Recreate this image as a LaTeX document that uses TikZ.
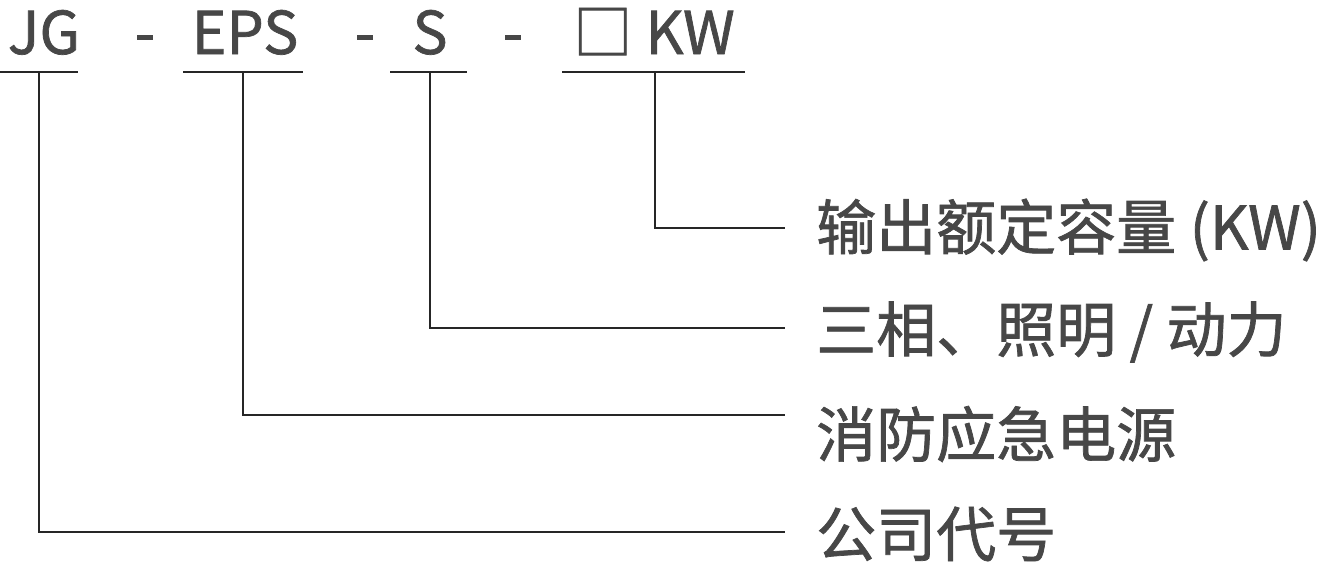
\documentclass[tikz,border=0pt]{standalone}
\usepackage{fontspec}
\setmainfont{Noto Sans CJK SC}
\newfontfamily\medf[FakeBold=1.2]{Noto Sans CJK SC}
\begin{document}
\begin{tikzpicture}[x=1pt,y=-1pt,
  top/.style={text=black!72,font=\medf\fontsize{59}{60}\selectfont,inner sep=0pt,anchor=base},
  lab/.style={text=black!72,font=\medf\fontsize{60}{62}\selectfont,inner sep=0pt,anchor=west},
  ln/.style={line width=1.5pt,black!85}]
\useasboundingbox (0,0) rectangle (1329,562);
\node[top] (jg) at (44,54) {JG};
\node[top] at (145,54) {-};
\node[top] (eps) at (245,54) {EPS};
\node[top] at (365,54) {-};
\node[top] (s) at (430,54) {S};
\node[top] at (513,54) {-};
\node[top] (kw) at (654,54) {□ KW};
\draw[ln] (0,72) -- (78,72);
\draw[ln] (183,72) -- (303,72);
\draw[ln] (390,72) -- (467,72);
\draw[ln] (562,72) -- (745,72);
\coordinate (u1) at (39,72);
\coordinate (u2) at (243,72);
\coordinate (u3) at (430,72);
\coordinate (u4) at (655,72);
\node[lab] (l1) at (816,230) {输出额定容量 (KW)};
\node[lab] (l2) at (816,332) {三相、照明 / 动力};
\node[lab] (l3) at (816,434) {消防应急电源};
\node[lab] (l4) at (816,534) {公司代号};
\coordinate (e1) at (785,228);
\coordinate (e2) at (785,328);
\coordinate (e3) at (785,415);
\coordinate (e4) at (785,532);
\draw[ln] (u4) |- (e1);
\draw[ln] (u3) |- (e2);
\draw[ln] (u2) |- (e3);
\draw[ln] (u1) |- (e4);
\end{tikzpicture}
\end{document}
